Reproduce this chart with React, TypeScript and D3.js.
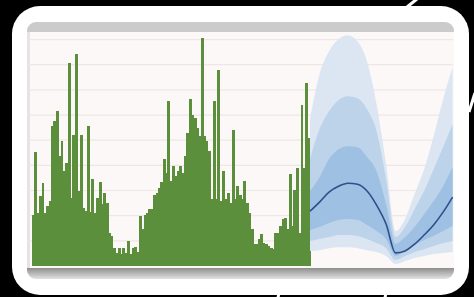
import React from 'react';
import * as d3 from 'd3';

// weekly counts (green bars), gridline every 10 units
const counts = [
  20.1, 45.2, 21.2, 27.8, 32.8, 21.2, 23.8, 25.8, 55.6, 57.5,
  61.5, 43.7, 49.6, 37.7, 41.0, 80.7, 27.1, 52.2, 84.3, 29.8,
  52.2, 23.1, 21.8, 55.6, 21.4, 34.4, 21.2, 27.1, 33.3, 24.5,
  29.1, 25.1, 13.2, 11.9, 7.3, 5.3, 7.3, 4.6, 7.3, 5.3,
  9.9, 4.6, 7.3, 7.7, 5.6, 19.8, 14.6, 20.1, 21.2, 22.5,
  22.8, 28.4, 29.1, 31.1, 33.3, 42.6, 37.0, 65.5, 33.7, 39.7,
  35.7, 37.7, 39.7, 37.0, 43.7, 52.9, 66.4, 60.2, 58.9, 54.9,
  51.6, 90.6, 51.6, 49.6, 45.6, 26.5, 65.5, 26.5, 78.0, 25.8,
  37.7, 26.5, 29.1, 25.1, 54.2, 26.5, 31.7, 28.4, 26.5, 33.7,
  25.1, 21.2, 14.6, 8.6, 8.6, 10.6, 12.6, 9.3, 8.6, 7.9,
  7.3, 6.6, 13.2, 13.2, 15.9, 18.5, 19.2, 14.6, 36.4, 15.9,
  30.4, 39.0, 13.2, 63.8, 39.0, 72.8, 50.9,
];

// forecast weeks and fan bands
const fcWeeks = [117, 121, 125, 129, 133, 137, 141, 145, 149, 153, 157, 161, 165, 169, 173, 177];
const median = [21.8, 25.4, 29.4, 31.7, 32.9, 32.5, 29.8, 24.2, 16.7, 5.2, 6.0, 8.7, 12.3, 16.3, 21.4, 27.4];
const outerHi = [58.3, 76.2, 85.3, 90.1, 91.7, 89.3, 81.3, 64.3, 40.5, 13.9, 18.7, 28.6, 38.5, 51.6, 66.3, 79.0];
const midHi = [42.5, 54.4, 61.5, 65.9, 67.5, 66.7, 62.3, 53.6, 34.5, 11.5, 15.5, 22.6, 29.8, 38.5, 47.2, 56.3];
const innerHi = [29.8, 35.3, 42.5, 46.4, 47.6, 47.2, 43.3, 37.7, 24.6, 8.7, 11.5, 15.5, 20.6, 25.8, 31.7, 39.3];
const innerLo = [14.3, 15.5, 17.1, 18.3, 18.7, 18.3, 16.3, 13.9, 10.7, 4.0, 6.3, 8.3, 10.3, 11.9, 13.9, 15.9];
const midLo = [9.9, 10.7, 11.5, 12.3, 12.3, 11.9, 10.7, 9.1, 7.1, 2.4, 4.0, 5.6, 6.7, 7.9, 9.1, 9.9];
const outerLo = [6.0, 6.3, 7.1, 7.5, 7.5, 7.1, 6.3, 5.6, 4.0, 0.8, 2.0, 3.2, 4.0, 4.8, 5.2, 5.6];

const gridValues = [10, 20, 30, 40, 50, 60, 70, 80, 90];

export default function App() {
  const width = 474, height = 297;
  const plot = { left: 28, right: 453, top: 32, bottom: 266 };

  const x = d3.scaleLinear().domain([0, 177]).range([32, 452.6]);
  const y = d3.scaleLinear().domain([0, 93]).range([plot.bottom, plot.top]);

  const band = (lo: number[], hi: number[]) =>
    d3.area<number>()
      .curve(d3.curveMonotoneX)
      .x((d, i) => x(fcWeeks[i]))
      .y0((d, i) => y(lo[i]))
      .y1((d, i) => y(hi[i]))(fcWeeks) as string;

  const line = d3.line<number>()
    .curve(d3.curveMonotoneX)
    .x((d, i) => x(fcWeeks[i]))
    .y(d => y(d))(median) as string;

  return (
    <svg width={width} height={height} style={{ position: 'absolute', left: 0, top: 0, background: '#000' }}>
      <defs>
        <clipPath id="win">
          <rect x={27} y={22} width={427} height={257} rx={9} />
        </clipPath>
        <linearGradient id="shadow" x1="0" y1="0" x2="0" y2="1">
          <stop offset="0" stopColor="#8e8e8e" />
          <stop offset="1" stopColor="#e2e2e2" />
        </linearGradient>
      </defs>
      <rect width={width} height={height} fill="#000" />
      {/* white frame */}
      <rect x={12} y={6} width={457} height={289} rx={28} fill="#fff" />
      <line x1={407} y1={7} x2={417} y2={-1} stroke="#fff" strokeWidth={3} />
      <line x1={469} y1={112} x2={475} y2={93} stroke="#fff" strokeWidth={3} />
      <line x1={279} y1={292} x2={278} y2={298} stroke="#fff" strokeWidth={3} />
      <line x1={386} y1={292} x2={385} y2={298} stroke="#fff" strokeWidth={3} />

      <g clipPath="url(#win)">
        <rect x={27} y={22} width={427} height={257} fill="#fcf8f7" />
        <rect x={27} y={22} width={427} height={10} fill="#cbcbcb" />
        <rect x={27} y={32} width={3} height={240} fill="#e6e3e3" />
        <rect x={27} y={268} width={427} height={11} fill="url(#shadow)" />

        {gridValues.map(v => (
          <line key={v} x1={plot.left} x2={plot.right} y1={y(v)} y2={y(v)} stroke="#f0e6e6" strokeWidth={1.2} />
        ))}

        <g shapeRendering="crispEdges">
          {counts.map((c, i) => (
            <rect key={i} x={x(i)} y={y(c)} width={x(i + 1) - x(i) + 0.6} height={y(0) - y(c)} fill="#5b8f3b" />
          ))}
        </g>

        <path d={band(outerLo, outerHi)} fill="#dbe6f2" />
        <path d={band(midLo, midHi)} fill="#bcd3ea" />
        <path d={band(innerLo, innerHi)} fill="#9ec0e3" />
        <path d={line} fill="none" stroke="#2d4f8c" strokeWidth={1.6} />
      </g>
    </svg>
  );
}
